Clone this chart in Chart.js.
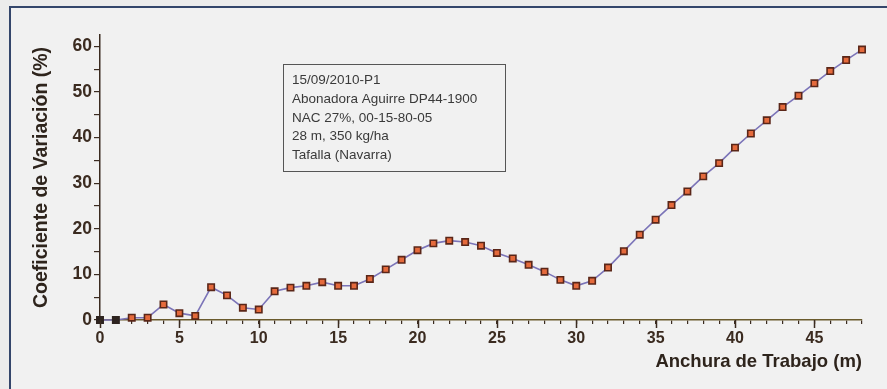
<!DOCTYPE html>
<html>
<head>
<meta charset="utf-8">
<script src="https://cdn.jsdelivr.net/npm/chart.js@4/dist/chart.umd.min.js"></script>
<style>
  html, body { margin: 0; padding: 0; background: #ececec; }
  #marco {
    position: absolute; left: 9px; top: 6px; width: 900px; height: 400px;
    border-left: 2px solid #34466b; border-top: 2px solid #34466b;
    background: #f1f1f1;
  }
  #wrap { position: absolute; left: 0; top: 0; width: 887px; height: 389px; }
</style>
</head>
<body>
<div id="marco"></div>
<div id="wrap"><canvas id="cvChart" width="887" height="389"></canvas></div>
<script>
// Anchura de trabajo (m) y coeficiente de variación (%)
const anchura = [0, 1, 2, 3, 4, 5, 6, 7, 8, 9, 10, 11, 12, 13, 14, 15, 16, 17, 18, 19, 20,
  21, 22, 23, 24, 25, 26, 27, 28, 29, 30, 31, 32, 33, 34, 35, 36, 37, 38, 39, 40,
  41, 42, 43, 44, 45, 46, 47, 48];
const coefVariacion = [0, 0, 0.5, 0.5, 3.4, 1.5, 0.9, 7.2, 5.4, 2.7, 2.3, 6.3, 7.1, 7.5, 8.3, 7.5, 7.5,
  9.0, 11.1, 13.2, 15.3, 16.8, 17.4, 17.1, 16.3, 14.7, 13.5, 12.1, 10.6, 8.8, 7.5, 8.6,
  11.5, 15.1, 18.7, 22.0, 25.2, 28.2, 31.5, 34.4, 37.8, 40.9, 43.8, 46.7, 49.2, 51.9,
  54.6, 57.0, 59.3];
const etiquetasX = [0, 5, 10, 15, 20, 25, 30, 35, 40, 45];
const etiquetasY = [0, 10, 20, 30, 40, 50, 60];
const textoCaja = [
  "15/09/2010-P1",
  "Abonadora Aguirre DP44-1900",
  "NAC 27%, 00-15-80-05",
  "28 m, 350 kg/ha",
  "Tafalla (Navarra)"
];

const colorEje = "#3b2b20";

// ticks largos en los valores principales
const ticksLargos = {
  id: "ticksLargos",
  afterDraw(chart) {
    const c = chart.ctx;
    const xs = chart.scales.x, ys = chart.scales.y;
    c.save();
    c.strokeStyle = colorEje;
    c.lineWidth = 1.5;
    etiquetasX.forEach(v => {
      const px = Math.round(xs.getPixelForValue(v)) + 0.5;
      c.beginPath();
      c.moveTo(px, ys.bottom);
      c.lineTo(px, ys.bottom + 8);
      c.stroke();
    });
    c.restore();
  }
};

// caja de texto con los datos del ensayo
const cajaInfo = {
  id: "cajaInfo",
  afterDraw(chart) {
    const c = chart.ctx;
    const xs = chart.scales.x, ys = chart.scales.y;
    const x0 = Math.round(xs.getPixelForValue(11.55)) + 0.5;
    const x1 = Math.round(xs.getPixelForValue(25.5)) + 0.5;
    const y0 = Math.round(ys.getPixelForValue(56.2)) + 0.5;
    const y1 = Math.round(ys.getPixelForValue(32.7)) + 0.5;
    c.save();
    c.fillStyle = "#f1f1f1";
    c.fillRect(x0, y0, x1 - x0, y1 - y0);
    c.strokeStyle = "#555555";
    c.lineWidth = 1;
    c.strokeRect(x0, y0, x1 - x0, y1 - y0);
    c.fillStyle = "#3a3a3a";
    c.font = "13.5px 'Liberation Sans', Arial, sans-serif";
    c.textBaseline = "middle";
    textoCaja.forEach((t, i) => {
      c.fillText(t, x0 + 8.5, y0 + 16 + i * 18.7);
    });
    c.restore();
  }
};

const ctx = document.getElementById("cvChart").getContext("2d");
const grafico = new Chart(ctx, {
  type: "line",
  data: {
    datasets: [{
      label: "CV",
      data: anchura.map((a, i) => ({ x: a, y: coefVariacion[i] })),
      borderColor: "#7b74b8",
      borderWidth: 1.6,
      tension: 0,
      pointStyle: "rect",
      pointRadius: 4.5,
      pointBorderWidth: 1.6,
      pointBackgroundColor: anchura.map(a => a < 2 ? "#2e2420" : "#e56a3c"),
      pointBorderColor: anchura.map(a => a < 2 ? "#2e2420" : "#5a2618"),
      clip: false
    }]
  },
  options: {
    responsive: false,
    animation: false,
    layout: { padding: { left: 0, right: 25, top: 35, bottom: 0 } },
    plugins: { legend: { display: false }, tooltip: { enabled: false } },
    scales: {
      x: {
        type: "linear",
        min: 0,
        max: 48,
        afterFit: s => { s.height = 69; },
        border: { display: true, color: "#6a5a2c", width: 1.5 },
        grid: { drawOnChartArea: false, color: colorEje, tickLength: 4, lineWidth: 1.2 },
        ticks: {
          stepSize: 1,
          autoSkip: false,
          maxRotation: 0,
          padding: 5,
          color: colorEje,
          font: { family: "'Liberation Sans', Arial, sans-serif", size: 16, weight: "bold" },
          callback: v => etiquetasX.includes(v) ? String(v) : ""
        },
        title: {
          display: true,
          text: "Anchura de Trabajo (m)",
          align: "end",
          color: "#2e241c",
          font: { family: "'Liberation Sans', Arial, sans-serif", size: 18.5, weight: "bold" },
          padding: { top: 0, bottom: 16 }
        }
      },
      y: {
        min: 0,
        max: 62.5,
        afterFit: s => { s.width = 100; },
        border: { display: true, color: colorEje, width: 1.5 },
        grid: { drawOnChartArea: false, color: colorEje, tickLength: 6, lineWidth: 1.2 },
        ticks: {
          stepSize: 5,
          includeBounds: false,
          autoSkip: false,
          padding: 2,
          color: colorEje,
          font: { family: "'Liberation Sans', Arial, sans-serif", size: 17.5, weight: "bold" },
          callback: v => etiquetasY.includes(v) ? String(v) : ""
        },
        title: {
          display: true,
          text: "Coeficiente de Variación (%)",
          color: "#2e241c",
          font: { family: "'Liberation Sans', Arial, sans-serif", size: 19.5, weight: "bold" },
          padding: { top: 30, bottom: 0 }
        }
      }
    }
  },
  plugins: [ticksLargos, cajaInfo]
});
</script>
</body>
</html>
